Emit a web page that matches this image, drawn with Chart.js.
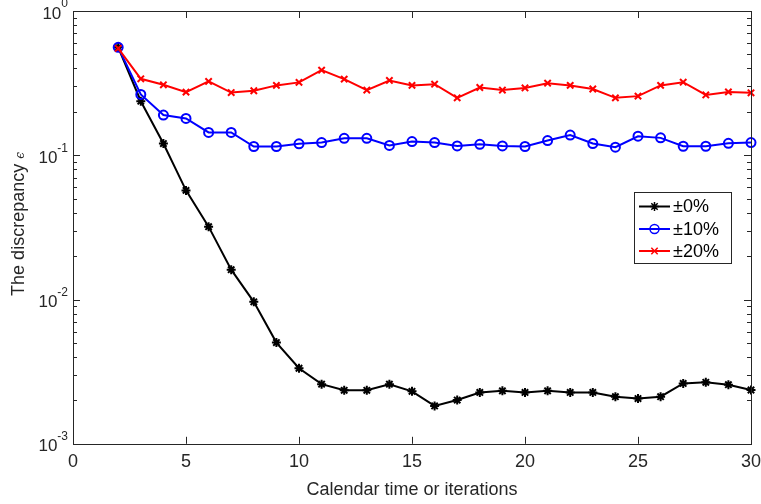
<!DOCTYPE html>
<html>
<head>
<meta charset="utf-8">
<script src="https://cdn.jsdelivr.net/npm/chart.js@4"></script>
<style>
  html, body { margin: 0; padding: 0; background: #fff; }
  canvas { display: block; }
</style>
</head>
<body>
<canvas id="myChart" width="761" height="504"></canvas>
<script>
// iterations on the x axis
var iterations = [2,3,4,5,6,7,8,9,10,11,12,13,14,15,16,17,18,19,20,21,22,23,24,25,26,27,28,29,30]
// discrepancy for each noise level
var noise0 = [0.56,0.237,0.1206,0.0571,0.032,0.0161,0.00964,0.00503,0.00334,0.00259,0.00235,0.00235,0.00259,0.00231,0.00183,0.00201,0.00227,0.00233,0.00227,0.00233,0.00227,0.00227,0.00212,0.00206,0.00212,0.00262,0.00267,0.00257,0.00236]
var noise10 = [0.56,0.264,0.190,0.180,0.144,0.144,0.115,0.115,0.120,0.1225,0.131,0.131,0.117,0.1245,0.1225,0.116,0.119,0.116,0.115,0.1265,0.138,0.1206,0.1137,0.1355,0.132,0.1155,0.1155,0.121,0.1225]
var noise20 = [0.551,0.339,0.308,0.274,0.325,0.272,0.280,0.305,0.320,0.389,0.337,0.283,0.330,0.305,0.311,0.250,0.295,0.283,0.293,0.316,0.305,0.288,0.250,0.257,0.305,0.321,0.262,0.275,0.271]
var seriesNames = ["\u00b10%","\u00b110%","\u00b120%"]
var xTicks = [0,5,10,15,20,25,30]
var yTicks = [1,0.1,0.01,0.001]
var yTickExp = ["0","-1","-2","-3"]
var xTitle = "Calendar time or iterations"
var yTitle = "The discrepancy "

var axisColor = "#262626"
var font = "'Liberation Sans', Arial, Helvetica, sans-serif"

function pts(ys){
    var out = []
    for (var i = 0; i < iterations.length; i++) out.push({x: iterations[i], y: ys[i]})
    return out
}

var styles = [
    {color: "#000000", pointStyle: "star", radius: 4.5, order: 3},
    {color: "#0000ff", pointStyle: "circle", radius: 4.5, order: 2},
    {color: "#ff0000", pointStyle: "crossRot", radius: 4.5, order: 1}
]
var allData = [noise0, noise10, noise20]

var datasets = []
for (var i = 0; i < allData.length; i++) {
    datasets.push({
        label: seriesNames[i],
        data: pts(allData[i]),
        borderColor: styles[i].color,
        backgroundColor: "rgba(0,0,0,0)",
        borderWidth: 2,
        pointStyle: styles[i].pointStyle,
        pointRadius: styles[i].radius,
        pointBorderWidth: 2,
        pointBorderColor: styles[i].color,
        pointBackgroundColor: "rgba(0,0,0,0)",
        order: styles[i].order,
        clip: false,
        tension: 0
    })
}

var matlabAxes = {
    id: "matlabAxes",
    afterDraw: function(chart){
        var ctx = chart.ctx
        var a = chart.chartArea
        var xs = chart.scales.x
        var ys = chart.scales.y
        ctx.save()
        ctx.strokeStyle = axisColor
        ctx.lineWidth = 1
        // box
        ctx.strokeRect(Math.round(a.left)+0.5, Math.round(a.top)+0.5, Math.round(a.right-a.left), Math.round(a.bottom-a.top))
        ctx.beginPath()
        // x ticks inward, top and bottom
        xTicks.forEach(function(v){
            var px = Math.round(xs.getPixelForValue(v)) + 0.5
            ctx.moveTo(px, a.bottom); ctx.lineTo(px, a.bottom - 7)
            ctx.moveTo(px, a.top); ctx.lineTo(px, a.top + 7)
        })
        // y major + minor ticks
        for (var d = -3; d <= 0; d++) {
            var base = Math.pow(10, d)
            var py = Math.round(ys.getPixelForValue(base)) + 0.5
            ctx.moveTo(a.left, py); ctx.lineTo(a.left + 7, py)
            ctx.moveTo(a.right, py); ctx.lineTo(a.right - 7, py)
            if (d < 0) {
                for (var m = 2; m <= 9; m++) {
                    var my = Math.round(ys.getPixelForValue(base * m)) + 0.5
                    ctx.moveTo(a.left, my); ctx.lineTo(a.left + 4, my)
                    ctx.moveTo(a.right, my); ctx.lineTo(a.right - 4, my)
                }
            }
        }
        ctx.stroke()

        // y tick labels 10^n
        ctx.fillStyle = axisColor
        ctx.textBaseline = "middle"
        yTicks.forEach(function(v, k){
            var py = ys.getPixelForValue(v)
            ctx.font = "12px " + font
            var ew = ctx.measureText(yTickExp[k]).width
            var right = a.left - 5
            ctx.textAlign = "left"
            ctx.fillText(yTickExp[k], right - ew, py - 7)
            ctx.font = "17px " + font
            ctx.textAlign = "right"
            ctx.fillText("10", right - ew, py + 3)
        })

        // y title, rotated
        ctx.save()
        ctx.translate(19, 224)
        ctx.rotate(-Math.PI / 2)
        ctx.font = "18px " + font
        var tw = ctx.measureText(yTitle).width
        ctx.font = "italic 12px 'DejaVu Serif', serif"
        var ew2 = ctx.measureText("\u03f5").width
        var start = -(tw + ew2) / 2
        ctx.textAlign = "left"
        ctx.textBaseline = "middle"
        ctx.font = "18px " + font
        ctx.fillText(yTitle, start, 0)
        ctx.font = "italic 12px 'DejaVu Serif', serif"
        ctx.fillText("\u03f5", start + tw, 2)
        ctx.restore()

        // legend
        var lx = 634.5, ly = 192.5, lw = 97, lh = 71
        ctx.fillStyle = "#ffffff"
        ctx.fillRect(lx, ly, lw, lh)
        ctx.strokeStyle = axisColor
        ctx.lineWidth = 1
        ctx.strokeRect(lx, ly, lw, lh)
        var rows = [206.5, 229, 251]
        for (var i = 0; i < datasets.length; i++) {
            var ry = rows[i]
            ctx.strokeStyle = styles[i].color
            ctx.lineWidth = 2
            ctx.beginPath()
            ctx.moveTo(639, ry); ctx.lineTo(670, ry)
            ctx.stroke()
            ctx.fillStyle = "rgba(0,0,0,0)"
            ctx.lineWidth = 1.5
            Chart.helpers.drawPoint(ctx, {pointStyle: styles[i].pointStyle, radius: 4.5, borderWidth: 1.5, rotation: 0}, 654.5, ry)
            ctx.fillStyle = "#000000"
            ctx.font = "18px " + font
            ctx.textAlign = "left"
            ctx.textBaseline = "middle"
            ctx.fillText(seriesNames[i], 673, ry + 1)
        }
        ctx.restore()
    }
}

var chart = new Chart(document.getElementById("myChart").getContext("2d"), {
    type: "line",
    data: { datasets: datasets },
    options: {
        responsive: false,
        animation: false,
        layout: { padding: { left: 73, right: 10, top: 11, bottom: 0 } },
        plugins: { legend: { display: false }, tooltip: { enabled: false } },
        scales: {
            x: {
                type: "linear",
                min: 0,
                max: 30,
                afterBuildTicks: function(scale){
                    scale.ticks = xTicks.map(function(v){ return {value: v} })
                },
                afterFit: function(scale){
                    scale.paddingLeft = 0
                    scale.paddingRight = 0
                },
                grid: { display: false, drawTicks: false },
                border: { display: false },
                ticks: { color: axisColor, font: { family: font, size: 18 }, padding: 7, maxRotation: 0 },
                title: { display: true, text: xTitle, color: axisColor, font: { family: font, size: 18 }, padding: { top: 0, bottom: 3 } }
            },
            y: {
                type: "logarithmic",
                min: 0.001,
                max: 1,
                display: false
            }
        }
    },
    plugins: [matlabAxes]
})
</script>
</body>
</html>
